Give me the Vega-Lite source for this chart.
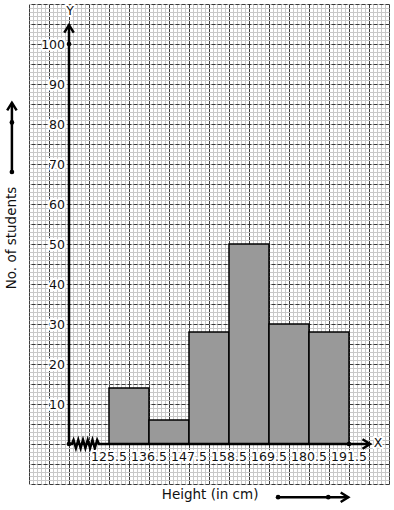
{
  "$schema": "https://vega.github.io/schema/vega-lite/v6.json",
  "width": 360,
  "height": 480,
  "autosize": "none",
  "padding": {"left": 29, "top": 4, "right": 5, "bottom": 26},
  "background": "white",
  "config": {"view": {"stroke": null}, "font": "DejaVu Sans"},
  "datasets": {
    "hist": [
      {"height_from": 125.5, "height_to": 136.5, "students": 14},
      {"height_from": 136.5, "height_to": 147.5, "students": 6},
      {"height_from": 147.5, "height_to": 158.5, "students": 28},
      {"height_from": 158.5, "height_to": 169.5, "students": 50},
      {"height_from": 169.5, "height_to": 180.5, "students": 30},
      {"height_from": 180.5, "height_to": 191.5, "students": 28}
    ],
    "xaxis": [
      {"i": 0, "x": 114.5, "y": 0},
      {"i": 1, "x": 115.3, "y": 0},
      {"i": 2, "x": 115.75, "y": 1},
      {"i": 3, "x": 116.4, "y": -1},
      {"i": 4, "x": 117.05, "y": 1},
      {"i": 5, "x": 117.7, "y": -1},
      {"i": 6, "x": 118.35, "y": 1},
      {"i": 7, "x": 119.0, "y": -1},
      {"i": 8, "x": 119.65, "y": 1},
      {"i": 9, "x": 120.3, "y": -1},
      {"i": 10, "x": 120.95, "y": 1},
      {"i": 11, "x": 121.6, "y": -1},
      {"i": 12, "x": 122.25, "y": 1},
      {"i": 13, "x": 122.75, "y": 0},
      {"i": 14, "x": 197.3, "y": 0}
    ],
    "rules": [
      {"x": 114.5, "x2": 114.5, "y": 0, "y2": 104.75},
      {"x": 98.8, "x2": 98.8, "y": 68, "y2": 85.3},
      {"x": 172, "x2": 191.3, "y": -13.3, "y2": -13.3}
    ],
    "dots": [
      {"x": 114.5, "y": 0},
      {"x": 191.5, "y": 0},
      {"x": 114.5, "y": 100},
      {"x": 98.8, "y": 80.4},
      {"x": 98.8, "y": 68},
      {"x": 172, "y": -13.3},
      {"x": 185.8, "y": -13.3}
    ],
    "arrows": [
      {"x": 114.5, "y": 104.75, "dir": "up"},
      {"x": 98.8, "y": 85.3, "dir": "up"},
      {"x": 197.3, "y": 0, "dir": "right"},
      {"x": 191.3, "y": -13.3, "dir": "right"}
    ],
    "ylabels": [
      {"value": 10}, {"value": 20}, {"value": 30}, {"value": 40}, {"value": 50},
      {"value": 60}, {"value": 70}, {"value": 80}, {"value": 90}, {"value": 100}
    ],
    "xlabels": [
      {"value": 125.5}, {"value": 136.5}, {"value": 147.5}, {"value": 158.5},
      {"value": 169.5}, {"value": 180.5}, {"value": 191.5}
    ],
    "letters": [
      {"x": 114.8, "y": 108.25, "text": "Y"},
      {"x": 199.5, "y": 0.25, "text": "X"}
    ]
  },
  "resolve": {"scale": {"x": "independent", "y": "independent"}},
  "layer": [
    {
      "data": {"values": [{}]},
      "mark": {"type": "point", "opacity": 0},
      "encoding": {
        "x": {"datum": 0, "type": "quantitative", "scale": {"domain": [0, 90], "nice": false, "zero": false},
          "axis": {"orient": "bottom", "tickCount": 90, "grid": true, "gridColor": "#c8c8c8", "gridWidth": 1, "gridOpacity": 1, "labels": false, "ticks": false, "domain": false, "title": null}},
        "y": {"datum": 0, "type": "quantitative", "scale": {"domain": [0, 120], "nice": false, "zero": false},
          "axis": {"orient": "left", "tickCount": 120, "grid": true, "gridColor": "#c8c8c8", "gridWidth": 1, "gridOpacity": 1, "labels": false, "ticks": false, "domain": false, "title": null}}
      }
    },
    {
      "data": {"values": [{}]},
      "mark": {"type": "point", "opacity": 0},
      "encoding": {
        "x": {"datum": 0, "type": "quantitative", "scale": {"domain": [0, 18], "nice": false, "zero": false},
          "axis": {"orient": "top", "tickCount": 18, "grid": true, "gridColor": "#3a3a3a", "gridWidth": 1, "gridOpacity": 1, "labels": false, "ticks": false, "domain": false, "title": null}},
        "y": {"datum": 0, "type": "quantitative", "scale": {"domain": [0, 24], "nice": false, "zero": false},
          "axis": {"orient": "right", "tickCount": 24, "grid": true, "gridColor": "#3a3a3a", "gridWidth": 1, "gridOpacity": 1, "gridDash": [4, 2], "labels": false, "ticks": false, "domain": false, "title": null}}
      }
    },
    {
      "layer": [
        {
          "data": {"name": "hist"},
          "mark": {"type": "rect", "fill": "#999999", "stroke": "black", "strokeWidth": 1.5, "clip": false},
          "encoding": {
            "x": {"field": "height_from", "type": "quantitative", "scale": {"domain": [103.5, 202.5], "nice": false, "zero": false}, "axis": null},
            "x2": {"field": "height_to"},
            "y": {"field": "students", "type": "quantitative", "scale": {"domain": [-10, 110], "nice": false, "zero": false}, "axis": null},
            "y2": {"datum": 0}
          }
        },
        {
          "data": {"name": "rules"},
          "mark": {"type": "rule", "stroke": "black", "strokeWidth": 2.5, "clip": false},
          "encoding": {
            "x": {"field": "x", "type": "quantitative", "axis": null},
            "x2": {"field": "x2"},
            "y": {"field": "y", "type": "quantitative", "axis": null},
            "y2": {"field": "y2"}
          }
        },
        {
          "data": {"name": "xaxis"},
          "mark": {"type": "line", "stroke": "black", "strokeWidth": 2.5, "clip": false},
          "encoding": {
            "x": {"field": "x", "type": "quantitative", "axis": null},
            "y": {"field": "y", "type": "quantitative", "axis": null},
            "order": {"field": "i"}
          }
        },
        {
          "data": {"name": "dots"},
          "mark": {"type": "point", "filled": true, "fill": "black", "opacity": 1, "size": 22, "clip": false},
          "encoding": {
            "x": {"field": "x", "type": "quantitative", "axis": null},
            "y": {"field": "y", "type": "quantitative", "axis": null}
          }
        },
        {
          "data": {"name": "arrows"},
          "mark": {"type": "point", "filled": false, "stroke": "black", "strokeWidth": 2.5, "opacity": 1, "size": 90, "clip": false},
          "encoding": {
            "x": {"field": "x", "type": "quantitative", "axis": null},
            "y": {"field": "y", "type": "quantitative", "axis": null},
            "shape": {"field": "dir", "type": "nominal", "legend": null,
              "scale": {"domain": ["up", "right"], "range": ["M-1,1.6L0,0L1,1.6", "M-1.6,-1L0,0L-1.6,1"]}}
          }
        },
        {
          "data": {"name": "ylabels"},
          "mark": {"type": "text", "align": "right", "baseline": "alphabetic", "dx": -4, "dy": 4.5, "fontSize": 12.5, "fill": "white", "stroke": "white", "strokeWidth": 4, "strokeJoin": "round", "clip": false},
          "encoding": {
            "x": {"datum": 114.5, "type": "quantitative", "axis": null},
            "y": {"field": "value", "type": "quantitative", "axis": null},
            "text": {"field": "value", "type": "quantitative"}
          }
        },
        {
          "data": {"name": "ylabels"},
          "mark": {"type": "text", "align": "right", "baseline": "alphabetic", "dx": -4, "dy": 4.5, "fontSize": 12.5, "fill": "#111111", "clip": false},
          "encoding": {
            "x": {"datum": 114.5, "type": "quantitative", "axis": null},
            "y": {"field": "value", "type": "quantitative", "axis": null},
            "text": {"field": "value", "type": "quantitative"}
          }
        },
        {
          "data": {"name": "xlabels"},
          "mark": {"type": "text", "align": "center", "baseline": "alphabetic", "dy": 17, "fontSize": 12.5, "fill": "white", "stroke": "white", "strokeWidth": 4, "strokeJoin": "round", "clip": false},
          "encoding": {
            "x": {"field": "value", "type": "quantitative", "axis": null},
            "y": {"datum": 0, "type": "quantitative", "axis": null},
            "text": {"field": "value", "type": "quantitative", "format": ".1f"}
          }
        },
        {
          "data": {"name": "xlabels"},
          "mark": {"type": "text", "align": "center", "baseline": "alphabetic", "dy": 17, "fontSize": 12.5, "fill": "#111111", "clip": false},
          "encoding": {
            "x": {"field": "value", "type": "quantitative", "axis": null},
            "y": {"datum": 0, "type": "quantitative", "axis": null},
            "text": {"field": "value", "type": "quantitative", "format": ".1f"}
          }
        },
        {
          "data": {"name": "letters"},
          "mark": {"type": "text", "align": "center", "baseline": "middle", "fontSize": 12.5, "fill": "white", "stroke": "white", "strokeWidth": 4, "strokeJoin": "round", "clip": false},
          "encoding": {
            "x": {"field": "x", "type": "quantitative", "axis": null},
            "y": {"field": "y", "type": "quantitative", "axis": null},
            "text": {"field": "text"}
          }
        },
        {
          "data": {"name": "letters"},
          "mark": {"type": "text", "align": "center", "baseline": "middle", "fontSize": 12.5, "fill": "#111111", "clip": false},
          "encoding": {
            "x": {"field": "x", "type": "quantitative", "axis": null},
            "y": {"field": "y", "type": "quantitative", "axis": null},
            "text": {"field": "text"}
          }
        },
        {
          "data": {"values": [{"title": "No. of students"}]},
          "mark": {"type": "text", "align": "center", "baseline": "middle", "angle": 270, "fontSize": 13.5, "fill": "#111111", "clip": false},
          "encoding": {
            "x": {"datum": 98.8, "type": "quantitative", "axis": null},
            "y": {"datum": 51.5, "type": "quantitative", "axis": null},
            "text": {"field": "title"}
          }
        },
        {
          "data": {"values": [{"title": "Height (in cm)"}]},
          "mark": {"type": "text", "align": "center", "baseline": "middle", "fontSize": 13.5, "fill": "#111111", "clip": false},
          "encoding": {
            "x": {"datum": 153.3, "type": "quantitative", "axis": null},
            "y": {"datum": -12.75, "type": "quantitative", "axis": null},
            "text": {"field": "title"}
          }
        }
      ]
    }
  ]
}
